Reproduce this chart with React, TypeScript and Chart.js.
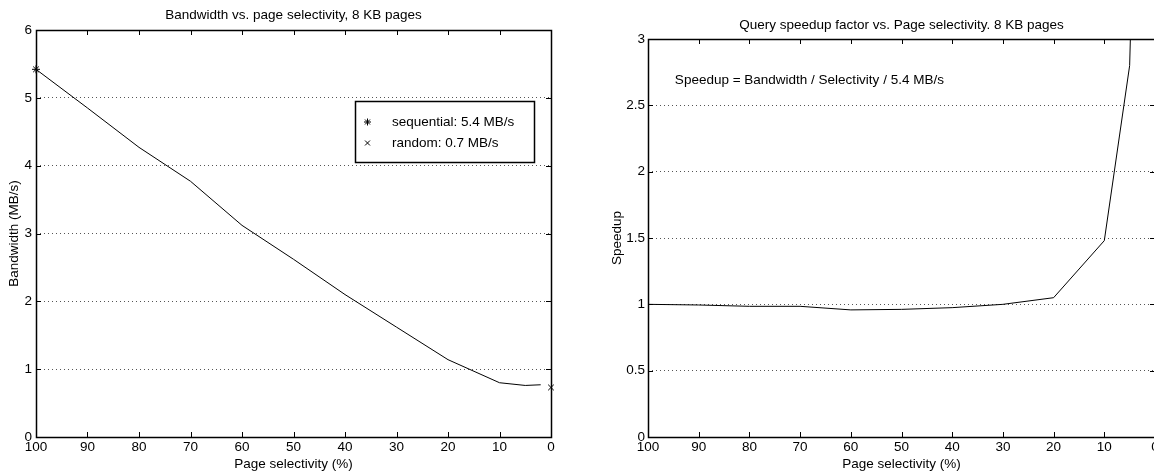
import React, { useEffect, useRef } from 'react';
import { Chart, registerables } from 'chart.js';

Chart.register(...registerables);

// ---- data ----
const selectivity = [100, 90, 80, 70, 60, 50, 40, 30, 20, 10, 5, 2];
const bandwidth = [5.42, 4.85, 4.27, 3.77, 3.12, 2.62, 2.1, 1.62, 1.14, 0.8, 0.76, 0.77];
const speedup = [1.0, 0.995, 0.985, 0.985, 0.958, 0.962, 0.975, 1.0, 1.05, 1.48, 2.8, 7.1];
const sequentialSel = [100];
const sequentialBw = [5.42];
const randomSel = [0];
const randomBw = [0.73];
const legendLabels = ['sequential: 5.4 MB/s', 'random: 0.7 MB/s'];
const leftTitle = 'Bandwidth vs. page selectivity, 8 KB pages';
const rightTitle = 'Query speedup factor vs. Page selectivity. 8 KB pages';
const xTitle = 'Page selectivity (%)';
const leftYTitle = 'Bandwidth (MB/s)';
const rightYTitle = 'Speedup';
const annotationText = 'Speedup = Bandwidth / Selectivity / 5.4 MB/s';
const annotationAt = { x: 94.7, y: 2.69 };

const FONT = '"Liberation Sans", Arial, Helvetica, sans-serif';
const FS = 13.5;
Chart.defaults.font.family = FONT;
Chart.defaults.font.size = FS;
Chart.defaults.color = '#000';

const toPoints = (xs: number[], ys: number[]) => xs.map((x, i) => ({ x, y: ys[i] }));

function drawMarker(ctx: CanvasRenderingContext2D, style: string, x: number, y: number, r: number) {
  ctx.beginPath();
  if (style === 'star') {
    for (let k = 0; k < 4; k++) {
      const a = (k * Math.PI) / 4;
      ctx.moveTo(x - r * Math.cos(a), y - r * Math.sin(a));
      ctx.lineTo(x + r * Math.cos(a), y + r * Math.sin(a));
    }
  } else {
    const d = r * Math.SQRT1_2;
    ctx.moveTo(x - d, y - d);
    ctx.lineTo(x + d, y + d);
    ctx.moveTo(x - d, y + d);
    ctx.lineTo(x + d, y - d);
  }
  ctx.stroke();
}

const framePlugin = {
  id: 'frame',
  afterDraw(chart: any) {
    const { ctx, chartArea: a, scales } = chart;
    const L = Math.round(a.left), R = Math.round(a.right), T = Math.round(a.top), B = Math.round(a.bottom);
    ctx.save();
    ctx.strokeStyle = '#000';
    ctx.lineWidth = 1;
    const tl = 5;
    ctx.beginPath();
    scales.x.ticks.forEach((t: any) => {
      const px = Math.round(scales.x.getPixelForValue(t.value)) + 0.5;
      ctx.moveTo(px, B); ctx.lineTo(px, B - tl);
      ctx.moveTo(px, T); ctx.lineTo(px, T + tl);
    });
    scales.y.ticks.forEach((t: any) => {
      const py = Math.round(scales.y.getPixelForValue(t.value)) + 0.5;
      ctx.moveTo(L, py); ctx.lineTo(L + tl, py);
      ctx.moveTo(R, py); ctx.lineTo(R - tl, py);
    });
    ctx.stroke();
    ctx.lineWidth = 1.5;
    ctx.strokeRect(L + 0.5, T + 0.5, R - L, B - T);
    ctx.restore();
  },
};

const boxLegendPlugin = {
  id: 'boxLegend',
  afterDraw(chart: any, _args: any, opts: any) {
    if (!opts || !opts.enabled) return;
    const { ctx, chartArea: a } = chart;
    const items = chart.data.datasets.filter((d: any) => d.inLegend);
    ctx.save();
    ctx.font = `${FS}px ${FONT}`;
    const textW = Math.max(...items.map((d: any) => ctx.measureText(d.label).width));
    const w = Math.round(37 + textW + 20);
    const h = 61;
    const x0 = Math.round(a.right - 17 - w);
    const y0 = Math.round(a.top + 71);
    ctx.fillStyle = '#fff';
    ctx.fillRect(x0, y0, w, h);
    ctx.strokeStyle = '#000';
    ctx.lineWidth = 1.5;
    ctx.strokeRect(x0 + 0.5, y0 + 0.5, w, h);
    ctx.lineWidth = 1;
    items.forEach((d: any, i: number) => {
      const cy = y0 + 21 + i * 21;
      drawMarker(ctx, d.pointStyle, x0 + 12.5, cy, 3.5);
      ctx.fillStyle = '#000';
      ctx.textAlign = 'left';
      ctx.textBaseline = 'middle';
      ctx.fillText(d.label, x0 + 37, cy);
    });
    ctx.restore();
  },
};

const annotationPlugin = {
  id: 'noteText',
  afterDraw(chart: any, _args: any, opts: any) {
    if (!opts || !opts.text) return;
    const { ctx, scales } = chart;
    ctx.save();
    ctx.font = `${FS}px ${FONT}`;
    ctx.fillStyle = '#000';
    ctx.textAlign = 'left';
    ctx.textBaseline = 'middle';
    ctx.fillText(opts.text, scales.x.getPixelForValue(opts.x), scales.y.getPixelForValue(opts.y));
    ctx.restore();
  },
};

const markerDataset = (label: string, style: string, xs: number[], ys: number[]) => ({
  label,
  data: toPoints(xs, ys),
  pointStyle: style,
  pointRadius: 4,
  pointBorderColor: '#000',
  pointBorderWidth: 1,
  pointBackgroundColor: '#000',
  borderColor: '#000',
  showLine: false,
  clip: false,
  inLegend: true,
});

function makeOptions(cfg: {
  title: string; titleTop: number; titleBottom: number; yMax: number; yStep: number;
  yTitle: string; yTitlePad: number; yWidth: number; yPad: number; padRight: number;
  legend: boolean; note?: any;
}): any {
  return {
    responsive: false,
    animation: false,
    events: [],
    layout: { padding: { left: 0, right: cfg.padRight, top: 0, bottom: 0 } },
    plugins: {
      legend: { display: false },
      tooltip: { enabled: false },
      title: {
        display: true,
        fullSize: false,
        text: cfg.title,
        color: '#000',
        font: { size: FS, weight: 'normal', lineHeight: 1 },
        padding: { top: cfg.titleTop, bottom: cfg.titleBottom },
      },
      boxLegend: { enabled: cfg.legend },
      noteText: cfg.note || {},
    },
    scales: {
      x: {
        type: 'linear',
        reverse: true,
        min: 0,
        max: 100,
        ticks: { stepSize: 10, padding: 2, maxRotation: 0, autoSkip: false, color: '#000' },
        grid: { display: false, drawTicks: false },
        border: { display: false },
        title: { display: true, text: xTitle, color: '#000', padding: { top: 1, bottom: 0 } },
        afterFit: (s: any) => { s.height = 35; },
      },
      y: {
        type: 'linear',
        min: 0,
        max: cfg.yMax,
        ticks: {
          stepSize: cfg.yStep,
          padding: cfg.yPad,
          color: '#000',
          callback: (v: any) => `${Math.round(v * 10) / 10}`,
        },
        grid: { color: '#555', lineWidth: 1, drawTicks: false },
        border: { display: false, dash: [1, 3] },
        title: { display: true, text: cfg.yTitle, color: '#000', padding: { top: cfg.yTitlePad, bottom: 0 } },
        afterFit: (s: any) => { s.width = cfg.yWidth; },
      },
    },
  };
}

export default function App() {
  const leftRef = useRef<HTMLCanvasElement>(null);
  const rightRef = useRef<HTMLCanvasElement>(null);

  useEffect(() => {
    const left = new Chart(leftRef.current!, {
      type: 'scatter',
      data: {
        datasets: [
          {
            label: 'bandwidth',
            data: toPoints(selectivity, bandwidth),
            showLine: true,
            borderColor: '#000',
            borderWidth: 1,
            pointRadius: 0,
            tension: 0,
          } as any,
          markerDataset(legendLabels[0], 'star', sequentialSel, sequentialBw) as any,
          markerDataset(legendLabels[1], 'crossRot', randomSel, randomBw) as any,
        ],
      },
      options: makeOptions({
        title: leftTitle, titleTop: 8.5, titleBottom: 8, yMax: 6, yStep: 1,
        yTitle: leftYTitle, yTitlePad: 6.5, yWidth: 36, yPad: 4, padRight: 39, legend: true,
      }),
      plugins: [framePlugin, boxLegendPlugin],
    });

    const right = new Chart(rightRef.current!, {
      type: 'scatter',
      data: {
        datasets: [
          {
            label: 'speedup',
            data: toPoints(selectivity, speedup),
            showLine: true,
            borderColor: '#000',
            borderWidth: 1,
            pointRadius: 0,
            tension: 0,
          } as any,
        ],
      },
      options: makeOptions({
        title: rightTitle, titleTop: 18.5, titleBottom: 7, yMax: 3, yStep: 0.5,
        yTitle: rightYTitle, yTitlePad: 19.5, yWidth: 58, yPad: 3, padRight: 35, legend: false,
        note: { text: annotationText, x: annotationAt.x, y: annotationAt.y },
      }),
      plugins: [framePlugin, annotationPlugin],
    });

    return () => {
      left.destroy();
      right.destroy();
    };
  }, []);

  return (
    <div
      style={{
        position: 'fixed', left: 0, top: 0, width: 1154, height: 472,
        overflow: 'hidden', background: '#fff',
      }}
    >
      <canvas ref={leftRef} width={590} height={472} style={{ position: 'absolute', left: 0, top: 0, display: 'block' }} />
      <canvas ref={rightRef} width={600} height={472} style={{ position: 'absolute', left: 590, top: 0, display: 'block' }} />
    </div>
  );
}
